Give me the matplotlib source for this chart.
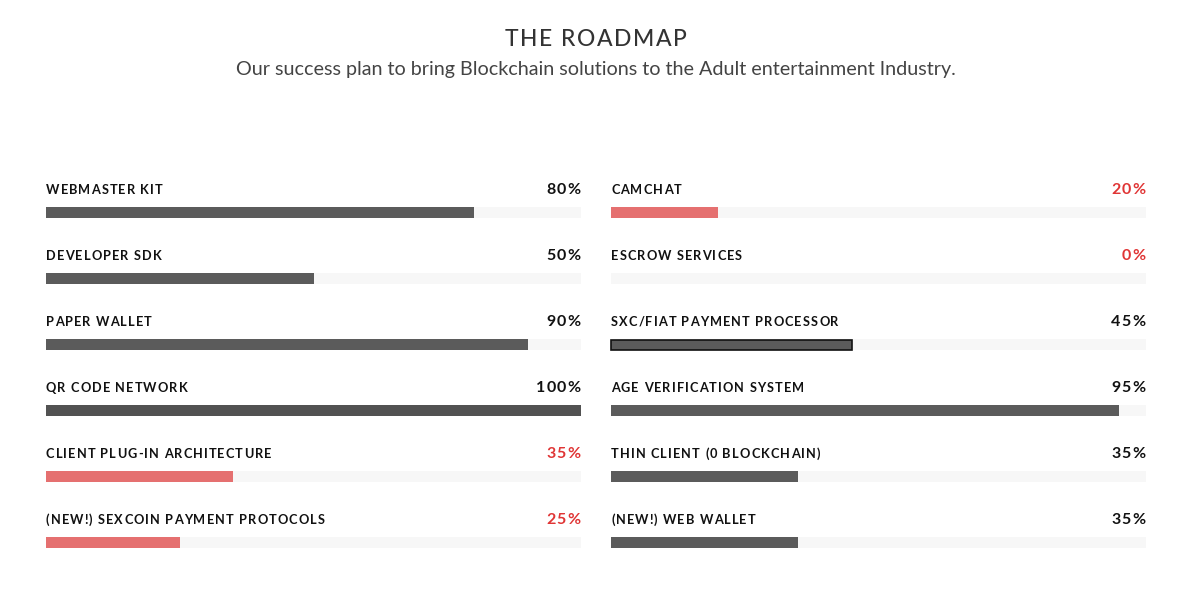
#!/usr/bin/env python3
"""
Roadmap progress bars, two columns
"""
import matplotlib
matplotlib.use("Agg")
import matplotlib.pyplot as plt
from matplotlib.font_manager import FontProperties, findfont
from matplotlib.ft2font import FT2Font

# left column
left_labels = ["WEBMASTER KIT", "DEVELOPER SDK", "PAPER WALLET", "QR CODE NETWORK",
               "CLIENT PLUG-IN ARCHITECTURE", "(NEW!) SEXCOIN PAYMENT PROTOCOLS"]
left_values = [80, 50, 90, 100, 35, 25]
left_status = ["done", "done", "done", "full", "late", "late"]

# right column
right_labels = ["CAMCHAT", "ESCROW SERVICES", "SXC/FIAT PAYMENT PROCESSOR",
                "AGE VERIFICATION SYSTEM", "THIN CLIENT (0 BLOCKCHAIN)", "(NEW!) WEB WALLET"]
right_values = [20, 0, 45, 95, 35, 35]
right_status = ["late", "late", "focus", "done", "done", "done"]

title = "THE ROADMAP"
subtitle = "Our success plan to bring Blockchain solutions to the Adult entertainment Industry."

DARK = "#5b5b5b"
FULL = "#525252"
RED_BAR = "#e57070"
RED_TXT = "#e03535"
TRACK = "#f7f7f7"

W, H = 1198, 607
DPI = 100
fig = plt.figure(figsize=(W / DPI, H / DPI), dpi=DPI)
ax = fig.add_axes([0, 0, 1, 1])
ax.set_xlim(0, W)
ax.set_ylim(H, 0)
ax.axis("off")


def tracked_text(x, y, s, prop, color, spacing, ha="left"):
    """draw text one glyph at a time with extra letter spacing (pixels)"""
    font = FT2Font(findfont(prop))
    font.set_size(prop.get_size_in_points(), DPI)
    adv = []
    for c in s:
        g = font.load_char(ord(c))
        adv.append(g.linearHoriAdvance / 65536)
    total = sum(adv) + spacing * (len(s) - 1)
    if ha == "right":
        x = x - total
    elif ha == "center":
        x = x - total / 2
    for c, a in zip(s, adv):
        if c != " ":
            ax.text(x, y, c, ha="left", va="center", fontproperties=prop, color=color)
        x += a + spacing


title_prop = FontProperties(family="Lato", size=16.5, weight="medium")
sub_prop = FontProperties(family="Lato", size=14.2, weight="normal")
label_prop = FontProperties(family="Lato", size=9.2, weight="bold")
pct_prop = FontProperties(family="Lato", size=11.5, weight="bold")

tracked_text(596, 39.5, title, title_prop, "#333333", 1.6, ha="center")
ax.text(596, 69, subtitle, ha="center", va="center", fontproperties=sub_prop, color="#444444")

row_y = [212.5 + 66 * i for i in range(6)]
bar_h = 11


def draw_column(x0, width, labels, values, status):
    # background track
    ax.barh(row_y, [width] * len(row_y), left=x0, height=bar_h, color=TRACK, zorder=1)
    for y, lab, v, s in zip(row_y, labels, values, status):
        color = {"done": DARK, "full": FULL, "late": RED_BAR, "focus": DARK}[s]
        edge = "#111111" if s == "focus" else "none"
        if v > 0:
            ax.barh([y], [width * v / 100], left=x0, height=bar_h - (1 if s == "focus" else 0),
                    color=color, edgecolor=edge, linewidth=1.2, zorder=2)
        tracked_text(x0, y - 23, lab, label_prop, "#111111", 1.1)
        txt_color = RED_TXT if s == "late" else "#111111"
        tracked_text(x0 + width - 1, y - 22.5, f"{v}%", pct_prop, txt_color, 1.0, ha="right")


draw_column(46, 535, left_labels, left_values, left_status)
draw_column(611, 535, right_labels, right_values, right_status)

fig.savefig("out.png", dpi=DPI, facecolor="white")
